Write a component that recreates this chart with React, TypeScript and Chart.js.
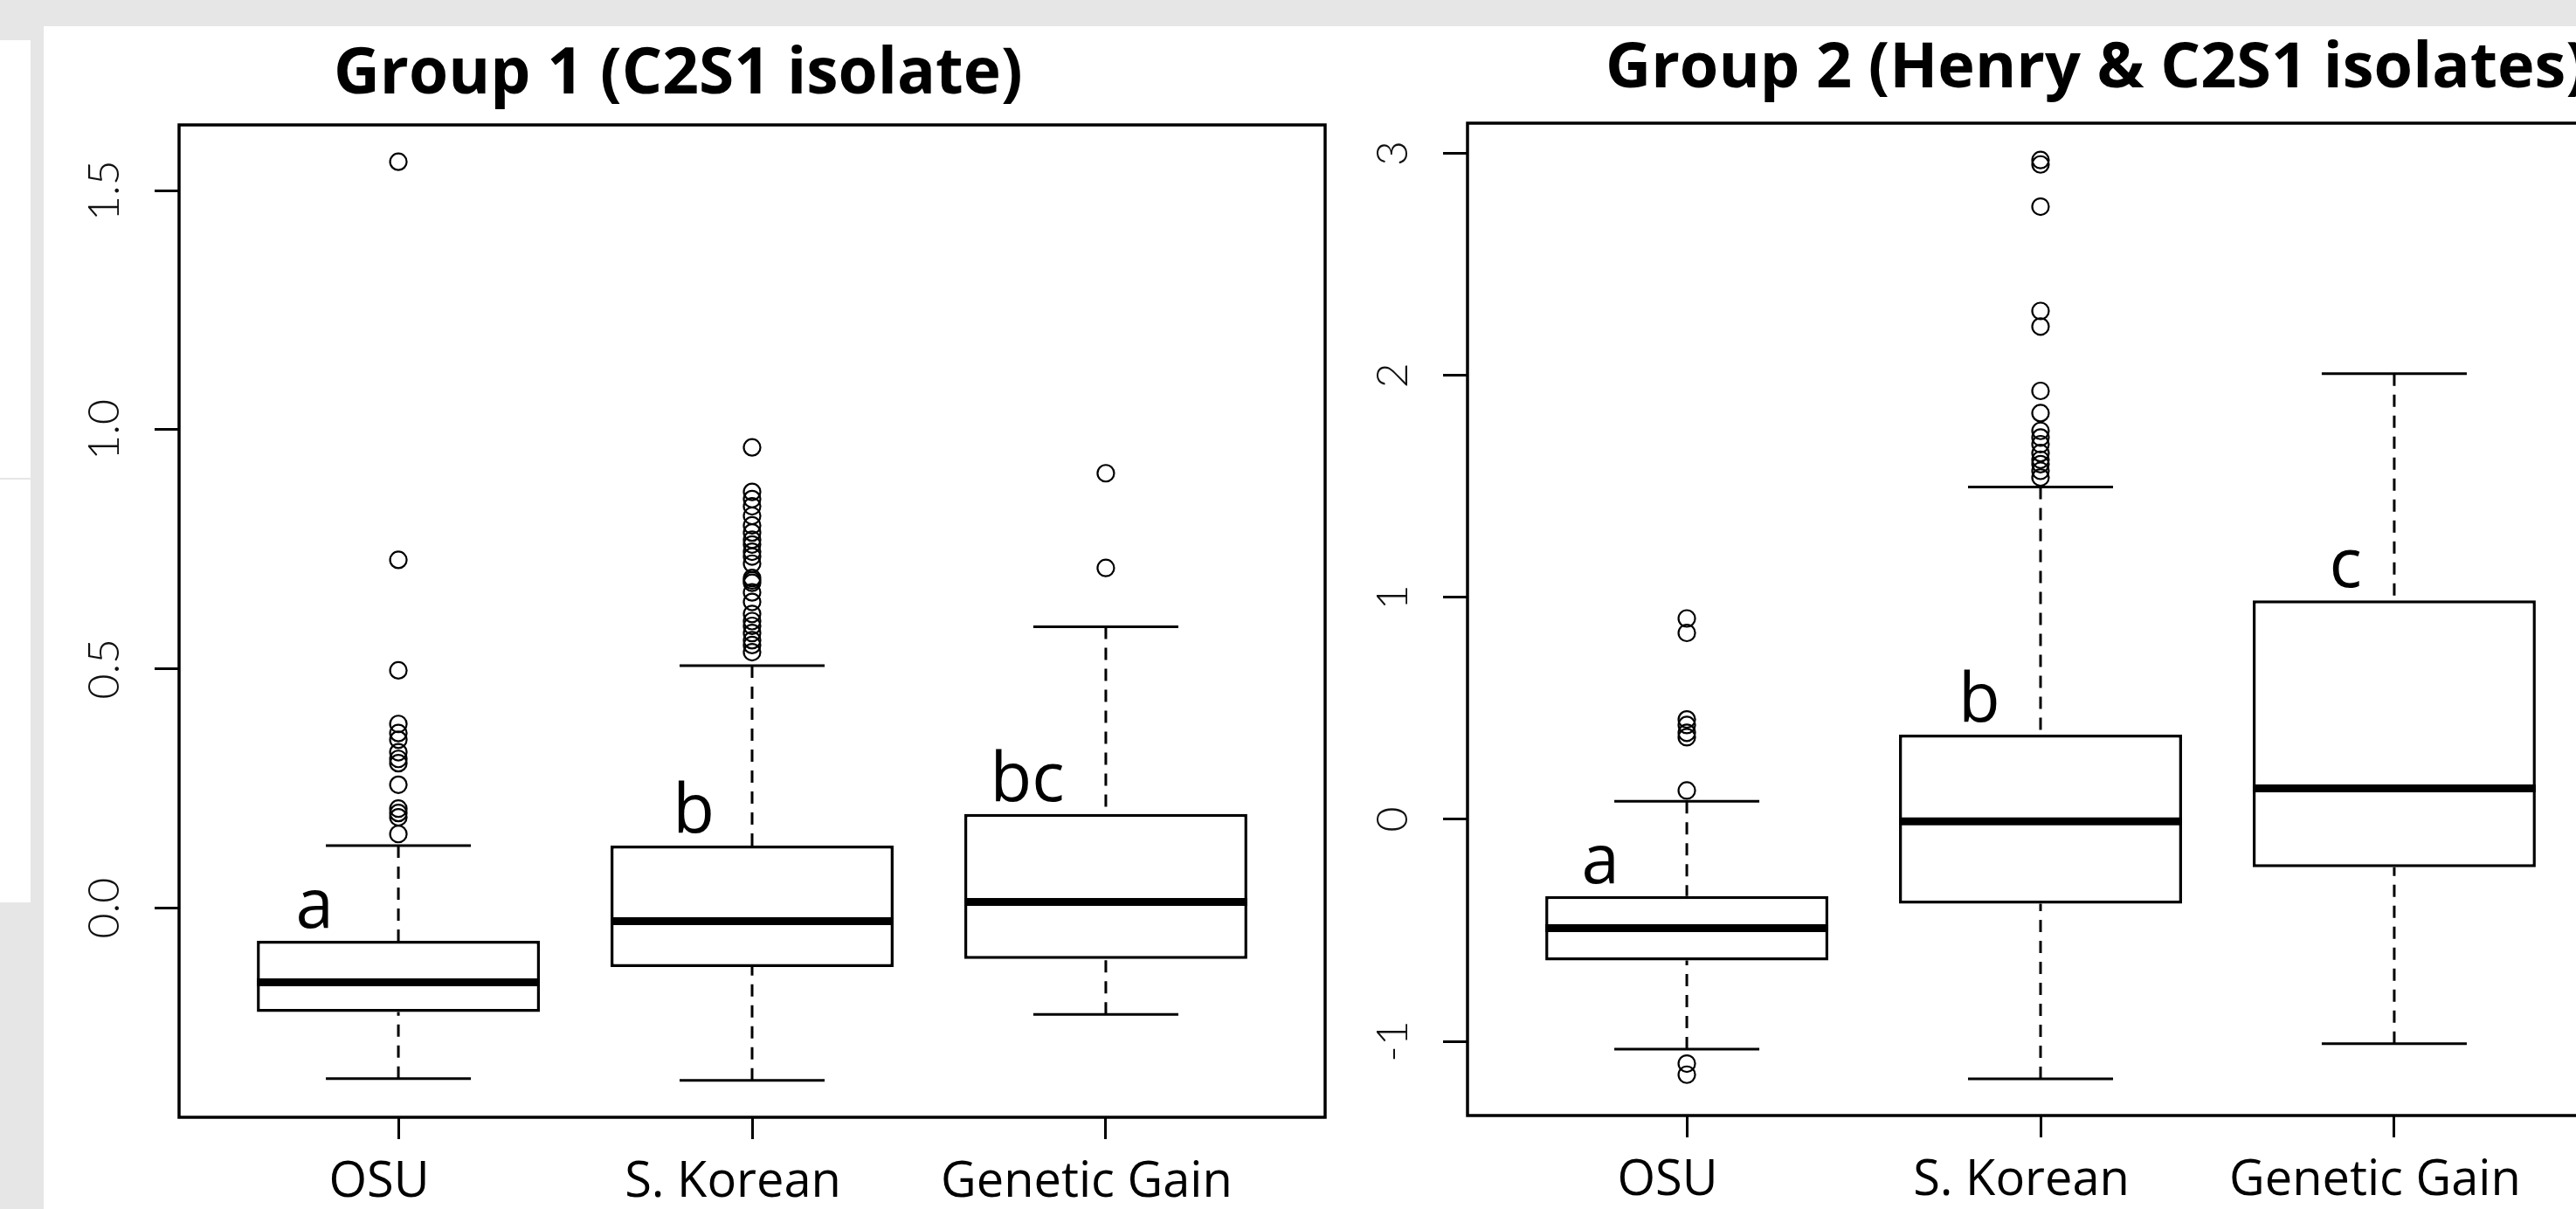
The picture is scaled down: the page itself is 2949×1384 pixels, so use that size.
import React, { useEffect, useRef } from "react";
import { Chart, registerables } from "chart.js";

Chart.register(...registerables);

// ---------- data ----------
const categories = ["OSU", "S. Korean", "Genetic Gain"];

const g1Title = "Group 1 (C2S1 isolate)";
const g1Lower = [-0.356, -0.36, -0.222];
const g1Q1 = [-0.217, -0.123, -0.106];
const g1Median = [-0.155, -0.027, 0.013];
const g1Q3 = [-0.068, 0.131, 0.197];
const g1Upper = [0.131, 0.507, 0.588];
const g1OutliersOSU = [1.56, 0.728, 0.497, 0.385, 0.366, 0.352, 0.326, 0.312, 0.303, 0.258, 0.208, 0.199, 0.19, 0.155];
const g1OutliersKorean = [0.963, 0.87, 0.855, 0.84, 0.82, 0.8, 0.785, 0.77, 0.76, 0.745, 0.735, 0.72, 0.69, 0.685, 0.68, 0.66, 0.64, 0.615, 0.6, 0.59, 0.575, 0.56, 0.55, 0.535];
const g1OutliersGain = [0.909, 0.711];
const g1Letters = ["a", "b", "bc"];
const g1YTicks = [0, 0.5, 1, 1.5];
const g1YTickLabels = ["0.0", "0.5", "1.0", "1.5"];
const g1YRange = [-0.437, 1.637];

const g2Title = "Group 2 (Henry & C2S1 isolates)";
const g2Lower = [-1.035, -1.169, -1.01];
const g2Q1 = [-0.636, -0.38, -0.216];
const g2Median = [-0.49, -0.009, 0.14];
const g2Q3 = [-0.345, 0.382, 0.987];
const g2Upper = [0.082, 1.497, 2.008];
const g2OutliersOSU = [0.905, 0.84, 0.45, 0.425, 0.39, 0.37, 0.13, -1.1, -1.15];
const g2OutliersKorean = [2.97, 2.95, 2.76, 2.29, 2.22, 1.93, 1.83, 1.75, 1.72, 1.69, 1.65, 1.62, 1.6, 1.57, 1.54];
const g2OutliersGain: number[] = [];
const g2Letters = ["a", "b", "c"];
const g2YTicks = [-1, 0, 1, 2, 3];
const g2YTickLabels = ["-1", "0", "1", "2", "3"];
const g2YRange = [-1.334, 3.136];

const xRange = [0.38, 3.62];

// ---------- style / layout ----------
const g1LetterOffsets = [-0.237, -0.165, -0.222];
const g2LetterOffsets = [-0.244, -0.173, -0.138];

const boxExtras = {
  id: "boxExtras",
  beforeDatasetsDraw(chart: any, _args: any, o: any) {
    const { ctx } = chart;
    const xs = chart.scales.x;
    const ys = chart.scales.y;
    ctx.save();
    ctx.strokeStyle = "#000";
    ctx.lineWidth = 3;
    for (let i = 0; i < o.q1.length; i++) {
      const cx = xs.getPixelForValue(i + 1);
      const half = xs.getPixelForValue(i + 1 + 0.205) - cx;
      ctx.setLineDash([14, 10]);
      ctx.beginPath();
      ctx.moveTo(cx, ys.getPixelForValue(o.upper[i]));
      ctx.lineTo(cx, ys.getPixelForValue(o.q3[i]));
      ctx.moveTo(cx, ys.getPixelForValue(o.lower[i]));
      ctx.lineTo(cx, ys.getPixelForValue(o.q1[i]));
      ctx.stroke();
      ctx.setLineDash([]);
      ctx.beginPath();
      ctx.moveTo(cx - half, ys.getPixelForValue(o.upper[i]));
      ctx.lineTo(cx + half, ys.getPixelForValue(o.upper[i]));
      ctx.moveTo(cx - half, ys.getPixelForValue(o.lower[i]));
      ctx.lineTo(cx + half, ys.getPixelForValue(o.lower[i]));
      ctx.stroke();
    }
    ctx.restore();
  },
  afterDatasetsDraw(chart: any, _args: any, o: any) {
    const { ctx, chartArea } = chart;
    const xs = chart.scales.x;
    const ys = chart.scales.y;
    ctx.save();
    // medians
    ctx.strokeStyle = "#000";
    ctx.lineWidth = 9;
    for (let i = 0; i < o.median.length; i++) {
      const cx = xs.getPixelForValue(i + 1);
      const half = xs.getPixelForValue(i + 1 + 0.4) - cx;
      const py = ys.getPixelForValue(o.median[i]);
      ctx.beginPath();
      ctx.moveTo(cx - half, py);
      ctx.lineTo(cx + half, py);
      ctx.stroke();
    }
    // frame
    ctx.lineWidth = 3.5;
    ctx.strokeRect(chartArea.left, chartArea.top, chartArea.right - chartArea.left, chartArea.bottom - chartArea.top);
    // y tick labels (rotated, as in R)
    ctx.fillStyle = "#111";
    ctx.font = "300 50px Lato, 'Liberation Sans', sans-serif";
    ctx.textAlign = "center";
    ctx.textBaseline = "alphabetic";
    ys.ticks.forEach((t: any, i: number) => {
      const py = ys.getPixelForValue(t.value);
      ctx.save();
      ctx.translate(chartArea.left - 87, py);
      ctx.rotate(-Math.PI / 2);
      ctx.fillText(o.yLabels[i], 0, 18);
      ctx.restore();
    });
    // significance letters
    ctx.fillStyle = "#000";
    ctx.font = "78px 'Open Sans', sans-serif";
    ctx.textAlign = "center";
    for (let i = 0; i < o.letters.length; i++) {
      const px = xs.getPixelForValue(i + 1 + o.letterOffsets[i]);
      const py = ys.getPixelForValue(o.q3[i]) - 15;
      ctx.fillText(o.letters[i], px, py);
    }
    // title
    ctx.font = `bold ${o.titleSize}px 'Open Sans', sans-serif`;
    ctx.textAlign = "left";
    ctx.fillText(o.title, o.titleX, o.titleY);
    ctx.restore();
  },
};

function makeConfig(g: any) {
  const points: { x: number; y: number }[] = [];
  g.outliers.forEach((arr: number[], i: number) => arr.forEach((v) => points.push({ x: i + 1, y: v })));
  return {
    type: "bar",
    data: {
      datasets: [
        {
          type: "scatter",
          data: points,
          pointStyle: "circle",
          pointRadius: 9.5,
          pointBorderWidth: 2.2,
          pointBorderColor: "#000",
          pointBackgroundColor: "rgba(0,0,0,0)",
          order: 0,
        },
        {
          type: "bar",
          data: categories.map((_, i) => ({ x: i + 1, y: [g.q1[i], g.q3[i]] })),
          backgroundColor: "#fff",
          borderColor: "#000",
          borderWidth: 3.5,
          borderSkipped: false,
          barPercentage: 0.8,
          categoryPercentage: 1,
          order: 1,
        },
      ],
    },
    options: {
      responsive: false,
      animation: false,
      events: [],
      layout: { padding: g.padding },
      plugins: {
        legend: { display: false },
        tooltip: { enabled: false },
        title: { display: false },
        boxExtras: {
          q1: g.q1, q3: g.q3, median: g.median, lower: g.lower, upper: g.upper,
          letters: g.letters, letterOffsets: g.letterOffsets, yLabels: g.yLabels,
          title: g.title, titleX: g.titleX, titleY: g.titleY, titleSize: g.titleSize,
        },
      },
      scales: {
        x: {
          type: "linear",
          min: xRange[0],
          max: xRange[1],
          offset: false,
          bounds: "data",
          afterBuildTicks: (axis: any) => {
            axis.ticks = categories.map((_, i) => ({ value: i + 1 }));
          },
          afterFit: (axis: any) => {
            axis.height = 100;
          },
          ticks: {
            callback: (_v: any, i: number) => categories[i],
            font: { family: "'Open Sans', sans-serif", size: 56 },
            color: "#000",
            padding: 16,
            maxRotation: 0,
            minRotation: 0,
            autoSkip: false,
            labelOffset: -22,
          },
          grid: { offset: false, drawOnChartArea: false, drawTicks: true, tickLength: 25, tickWidth: 3, tickColor: "#000" },
          border: { display: false },
        },
        y: {
          type: "linear",
          min: g.yRange[0],
          max: g.yRange[1],
          afterBuildTicks: (axis: any) => {
            axis.ticks = g.yTicks.map((v: number) => ({ value: v }));
          },
          afterFit: (axis: any) => {
            axis.width = g.yAxisWidth;
          },
          ticks: { display: false },
          grid: { drawOnChartArea: false, drawTicks: true, tickLength: 28, tickWidth: 3, tickColor: "#000" },
          border: { display: false },
        },
      },
    },
    plugins: [boxExtras],
  };
}

const group1 = {
  title: g1Title, titleX: 332, titleY: 77, titleSize: 73,
  q1: g1Q1, q3: g1Q3, median: g1Median, lower: g1Lower, upper: g1Upper,
  outliers: [g1OutliersOSU, g1OutliersKorean, g1OutliersGain],
  letters: g1Letters, letterOffsets: g1LetterOffsets,
  yTicks: g1YTicks, yLabels: g1YTickLabels, yRange: g1YRange,
  yAxisWidth: 155,
  padding: { left: 0, top: 113, right: 93, bottom: 5 },
};

const group2 = {
  title: g2Title, titleX: 308, titleY: 70, titleSize: 72,
  q1: g2Q1, q3: g2Q3, median: g2Median, lower: g2Lower, upper: g2Upper,
  outliers: [g2OutliersOSU, g2OutliersKorean, g2OutliersGain],
  letters: g2Letters, letterOffsets: g2LetterOffsets,
  yTicks: g2YTicks, yLabels: g2YTickLabels, yRange: g2YRange,
  yAxisWidth: 150,
  padding: { left: 0, top: 111, right: 108, bottom: 7 },
};

function BoxChart({ group, left, top, width, height }: any) {
  const ref = useRef<HTMLCanvasElement>(null);
  useEffect(() => {
    if (!ref.current) return;
    const chart = new Chart(ref.current, makeConfig(group) as any);
    return () => chart.destroy();
  }, [group]);
  return (
    <canvas
      ref={ref}
      width={width}
      height={height}
      style={{ position: "absolute", left, top, width, height }}
    />
  );
}

export default function App() {
  return (
    <div
      style={{
        position: "fixed",
        left: 0,
        top: 0,
        width: 2949,
        height: 1384,
        overflow: "hidden",
        background: "#e6e6e6",
      }}
    >
      <div style={{ position: "absolute", left: 0, top: 46, width: 35, height: 501, background: "#fff" }} />
      <div style={{ position: "absolute", left: 0, top: 549, width: 35, height: 484, background: "#fff" }} />
      <div style={{ position: "absolute", left: 50, top: 30, right: 0, bottom: 0, background: "#fff" }} />
      <BoxChart group={group1} left={50} top={30} width={1560} height={1354} />
      <BoxChart group={group2} left={1530} top={30} width={1570} height={1354} />
    </div>
  );
}
